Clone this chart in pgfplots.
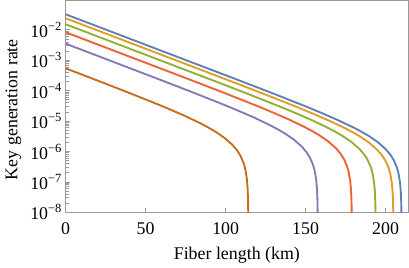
\documentclass[border=0pt]{standalone}
\usepackage{fontspec}
\setmainfont{Liberation Serif}
\usepackage{pgfplots}
\pgfplotsset{compat=1.18}
\definecolor{cblue}{RGB}{94,129,181}
\definecolor{corange}{RGB}{225,156,36}
\definecolor{cgreen}{RGB}{143,176,50}
\definecolor{cred}{RGB}{235,98,53}
\definecolor{cpurple}{RGB}{135,120,182}
\definecolor{cbrown}{RGB}{197,110,26}
\begin{document}
\fontsize{13.4}{16}\selectfont
\begin{tikzpicture}[font=\fontsize{13.4}{16}\selectfont]
\begin{axis}[
  scale only axis,
  width=256.725pt, height=158.85pt,
  ymode=log,
  xmin=0, xmax=214,
  ymin=1e-8, ymax=0.0927,
  axis line style={black!40, line width=0.6pt},
  tick style={black!40, line width=0.6pt},
  major tick length=3pt,
  tick align=inside,
  tick pos=left,
  xtick={0,50,100,150,200},
  ytick={1e-8,1e-7,1e-6,1e-5,1e-4,1e-3,1e-2},
  yticklabels={10\textsuperscript{−8},10\textsuperscript{−7},10\textsuperscript{−6},10\textsuperscript{−5},10\textsuperscript{−4},10\textsuperscript{−3},10\textsuperscript{−2}},
  minor ytick={},
  /pgf/number format/assume math mode=true,
  yticklabel style={inner xsep=2.5pt, text=black},
  xticklabel style={yshift=-2.8pt, text=black},
  xlabel={Fiber length (km)},
  ylabel={Key generation rate},
  every axis x label/.style={at={(axis description cs:0.5,0)}, anchor=north, inner sep=0pt, yshift=-25.8pt},
  every axis y label/.style={at={(axis description cs:0,0.485)}, xshift=-39.2pt, rotate=90, anchor=center},
  every axis plot/.append style={line width=1.4pt, line join=round, no markers},
  clip=true,
]
\coordinate (O) at (rel axis cs:0,0);
\addplot[cblue] coordinates {(0,3.26e-2) (110,2.03e-4) (130,7.98e-5) (150,3.05e-5) (160,1.85e-5) (170,1.09e-5) (180,6.13e-6) (185,4.45e-6) (190,3.11e-6) (195,2.05e-6) (200,1.20e-6) (203,7.82e-7) (205,5.32e-7) (207,3.04e-7) (208,1.98e-7) (209,9.69e-8) (209.5,4.79e-8) (209.8,1.90e-8) (209.95,4.74e-9) (209.99,9.55e-10)};
\addplot[corange] coordinates {(0,2.41e-2) (104.9,1.90e-4) (124.9,7.46e-5) (144.9,2.86e-5) (154.9,1.73e-5) (164.9,1.02e-5) (174.9,5.73e-6) (179.9,4.16e-6) (184.9,2.91e-6) (189.9,1.91e-6) (194.9,1.12e-6) (197.9,7.32e-7) (199.9,4.98e-7) (201.9,2.85e-7) (202.9,1.86e-7) (203.9,9.06e-8) (204.4,4.48e-8) (204.7,1.78e-8) (204.85,4.44e-9) (204.89,8.85e-10)};
\addplot[cgreen] coordinates {(0,1.53e-2) (93.8,2.01e-4) (113.8,7.89e-5) (133.8,3.02e-5) (143.8,1.83e-5) (153.8,1.08e-5) (163.8,6.06e-6) (168.8,4.40e-6) (173.8,3.07e-6) (178.8,2.02e-6) (183.8,1.19e-6) (186.8,7.73e-7) (188.8,5.26e-7) (190.8,3.01e-7) (191.8,1.96e-7) (192.8,9.58e-8) (193.3,4.73e-8) (193.6,1.88e-8) (193.75,4.69e-9) (193.79,9.36e-10)};
\addplot[cred] coordinates {(0,8.34e-3) (78.9,2.18e-4) (98.9,8.55e-5) (118.9,3.27e-5) (128.9,1.98e-5) (138.9,1.17e-5) (148.9,6.57e-6) (153.9,4.76e-6) (158.9,3.33e-6) (163.9,2.19e-6) (168.9,1.29e-6) (171.9,8.38e-7) (173.9,5.70e-7) (175.9,3.26e-7) (176.9,2.13e-7) (177.9,1.04e-7) (178.4,5.13e-8) (178.7,2.04e-8) (178.85,5.08e-9) (178.89,1.01e-9)};
\addplot[cpurple] coordinates {(0,3.52e-3) (57.6,2.45e-4) (77.6,9.62e-5) (97.6,3.68e-5) (107.6,2.23e-5) (117.6,1.32e-5) (127.6,7.39e-6) (132.6,5.36e-6) (137.6,3.75e-6) (142.6,2.47e-6) (147.6,1.45e-6) (150.6,9.43e-7) (152.6,6.42e-7) (154.6,3.67e-7) (155.6,2.39e-7) (156.6,1.17e-7) (157.1,5.77e-8) (157.4,2.29e-8) (157.55,5.71e-9) (157.59,1.14e-9)};
\addplot[cbrown] coordinates {(0,5.43e-4) (14.2,2.81e-4) (34.2,1.10e-4) (54.2,4.21e-5) (64.2,2.55e-5) (74.2,1.51e-5) (84.2,8.46e-6) (89.2,6.14e-6) (94.2,4.29e-6) (99.2,2.82e-6) (104.2,1.66e-6) (107.2,1.08e-6) (109.2,7.35e-7) (111.2,4.20e-7) (112.2,2.74e-7) (113.2,1.34e-7) (113.7,6.61e-8) (114.0,2.63e-8) (114.15,6.55e-9) (114.19,1.31e-9)};
\end{axis}
\pgfresetboundingbox
\path (O) ++(-49.275pt,-41.025pt) rectangle ++(306.75pt,200.25pt);
\end{tikzpicture}
\end{document}
